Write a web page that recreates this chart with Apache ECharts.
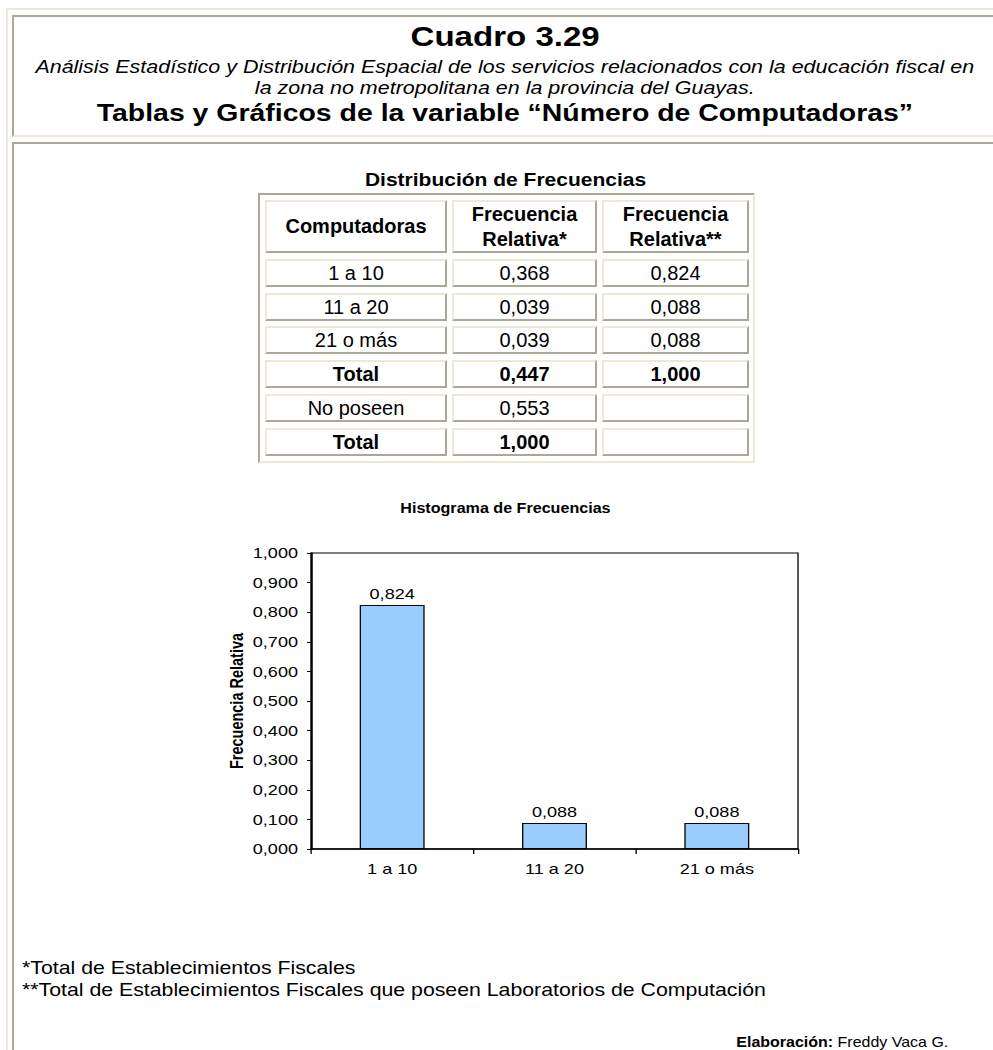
<!DOCTYPE html>
<html>
<head>
<meta charset="utf-8">
<title>Cuadro 3.29</title>
<script src="https://cdn.jsdelivr.net/npm/echarts/dist/echarts.min.js"></script>
<style>
  html, body { margin: 0; padding: 0; background: #fff; overflow: hidden; }
  body { width: 993px; height: 1050px; position: relative; font-family: Arial, 'Liberation Sans', sans-serif; color: #000; }
  .abs { position: absolute; }
  .txt { position: absolute; white-space: nowrap; }
  .txt > span { display: inline-block; }
  .ctr { left: 0; width: 1010px; text-align: center; }
  .ctr > span { transform-origin: 50% 50%; }
  .cell { position: absolute; box-sizing: border-box; border-style: solid; border-width: 2px;
          border-top-color: #ECE9D8; border-left-color: #ECE9D8; border-bottom-color: #ACA899; border-right-color: #ACA899;
          display: flex; align-items: center; justify-content: center; text-align: center; font-size: 20px; line-height: 25px; }
  .bold { font-weight: bold; }
</style>
</head>
<body>
<!-- outer frame (outset) -->
<div class="abs" style="left:6px; top:8px; width:1100px; height:1200px; border-top:2px solid #ECE9D8; border-left:2px solid #ECE9D8;"></div>
<!-- header cell (inset) -->
<div class="abs" style="left:12px; top:15px; width:1100px; height:118px; border-top:2px solid #ACA899; border-left:2px solid #ACA899; border-bottom:2px solid #ECE9D8;"></div>
<!-- body cell (inset) -->
<div class="abs" style="left:12px; top:142px; width:1100px; height:1100px; border-top:2px solid #ACA899; border-left:2px solid #ACA899;"></div>

<div class="txt ctr bold" style="top:20px; font-size:28px; line-height:34px;"><span style="transform:scaleX(1.18)">Cuadro 3.29</span></div>
<div class="txt ctr" style="top:56.5px; font-size:18.2px; line-height:21px; font-style:italic;"><span style="transform:scaleX(1.18)">Análisis Estadístico y Distribución Espacial de los servicios relacionados con la educación fiscal en<br>la zona no metropolitana en la provincia del Guayas.</span></div>
<div class="txt ctr bold" style="top:98.5px; font-size:24.1px; line-height:28px;"><span style="transform:scaleX(1.18)">Tablas y Gráficos de la variable “Número de Computadoras”</span></div>

<div class="txt bold" style="left:0; width:1012px; text-align:center; top:169px; font-size:18.75px; line-height:22px;"><span style="transform:scaleX(1.12)">Distribución de Frecuencias</span></div>
<div id="tbl"></div>

<div class="txt bold" style="left:0; width:1010px; text-align:center; top:498px; font-size:14px; line-height:20px;"><span style="transform:scaleX(1.15)">Histograma de Frecuencias</span></div>
<div id="chart" style="position:absolute; left:200px; top:480px; height:420px;"></div>

<div class="txt" style="left:22px; top:957px; font-size:18.5px; line-height:22px;"><span style="transform:scaleX(1.15); transform-origin:0 50%;">*Total de Establecimientos Fiscales<br>**Total de Establecimientos Fiscales que poseen Laboratorios de Computación</span></div>
<div class="txt" style="right:45px; top:1032px; font-size:13.9px; line-height:20px;"><span style="transform:scaleX(1.15); transform-origin:100% 50%;"><b>Elaboración:</b> Freddy Vaca G.</span></div>

<script>
// ---------------- data ----------------
const categories = ['1 a 10', '11 a 20', '21 o más'];
const relFreqAll = [0.368, 0.039, 0.039];     // Frecuencia Relativa*
const relFreqLab = [0.824, 0.088, 0.088];     // Frecuencia Relativa**
const tableHeaders = ['Computadoras', 'Frecuencia<br>Relativa*', 'Frecuencia<br>Relativa**'];
const subtotalRow = ['Total', 0.447, 1.000];
const noPoseenRow = ['No poseen', 0.553, null];
const grandTotalRow = ['Total', 1.000, null];
const yAxisMin = 0, yAxisMax = 1, yAxisStep = 0.1;

const fmt = v => (v === null || v === undefined) ? '' : Number(v).toFixed(3).replace('.', ',');

// ---------------- table ----------------
(function buildTable() {
  const tbl = document.getElementById('tbl');
  const colX = [265, 452, 602], colW = [182, 145, 147];
  const rowY = [200, 259, 293, 326, 360, 394, 428], rowH = [53, 28, 28, 28, 28, 28, 28];
  const outer = document.createElement('div');
  outer.className = 'abs';
  outer.style.cssText = 'left:258px; top:193px; width:497px; height:270px; box-sizing:border-box; border:2px solid; border-color:#ACA899 #ECE9D8 #ECE9D8 #ACA899;';
  tbl.appendChild(outer);
  const rows = [];
  rows.push({ cells: tableHeaders, bold: true });
  categories.forEach((c, i) => rows.push({ cells: [c, fmt(relFreqAll[i]), fmt(relFreqLab[i])], bold: false }));
  rows.push({ cells: [subtotalRow[0], fmt(subtotalRow[1]), fmt(subtotalRow[2])], bold: true });
  rows.push({ cells: [noPoseenRow[0], fmt(noPoseenRow[1]), fmt(noPoseenRow[2])], bold: false });
  rows.push({ cells: [grandTotalRow[0], fmt(grandTotalRow[1]), fmt(grandTotalRow[2])], bold: true });
  rows.forEach((r, ri) => {
    r.cells.forEach((t, ci) => {
      const d = document.createElement('div');
      d.className = 'cell' + (r.bold ? ' bold' : '');
      d.style.left = colX[ci] + 'px';
      d.style.top = rowY[ri] + 'px';
      d.style.width = colW[ci] + 'px';
      d.style.height = rowH[ri] + 'px';
      d.innerHTML = '<span>' + t + '</span>';
      tbl.appendChild(d);
    });
  });
})();

// ---------------- chart ----------------
const SX = 1.3;             // the chart picture is stretched horizontally
const chartW = 630 / SX;
const chartDom = document.getElementById('chart');
chartDom.style.width = chartW + 'px';
chartDom.style.transform = 'scaleX(' + SX + ')';
chartDom.style.transformOrigin = '0 0';
const FONT = "Arial, 'Liberation Sans', sans-serif";
const LBL = 13.9;
const chart = echarts.init(chartDom, null, { renderer: 'svg' });
chart.setOption({
  animation: false,
  textStyle: { fontFamily: FONT, color: '#000' },
  grid: {
    left: (311 - 200) / SX, top: 73, width: (798 - 311) / SX, height: 296,
    show: true, borderColor: '#000', borderWidth: 1, backgroundColor: 'transparent'
  },
  xAxis: {
    type: 'category',
    data: categories,
    axisLine: { lineStyle: { color: '#000', width: 1.5 } },
    axisTick: { show: true, length: 5, lineStyle: { color: '#000', width: 1 } },
    axisLabel: { fontSize: LBL, color: '#000', margin: 13, fontFamily: FONT }
  },
  yAxis: {
    type: 'value',
    min: yAxisMin, max: yAxisMax, interval: yAxisStep,
    name: 'Frecuencia Relativa',
    nameLocation: 'middle', nameRotate: 90, nameGap: 49.5, nameMoveOverlap: false,
    nameTextStyle: { fontWeight: 'bold', fontSize: 14.5, color: '#000', fontFamily: FONT },
    axisLine: { show: true, lineStyle: { color: '#000', width: 1.5 } },
    axisTick: { show: true, length: 3, lineStyle: { color: '#000', width: 1 } },
    axisLabel: { formatter: v => fmt(v), fontSize: LBL, color: '#000', margin: 10, fontFamily: FONT },
    splitLine: { show: false }
  },
  series: [{
    type: 'bar',
    data: relFreqLab,
    barWidth: '40%',
    itemStyle: { color: '#99CCFF', borderColor: '#000', borderWidth: 1 },
    label: { show: true, position: 'top', distance: 4, formatter: p => fmt(p.value), fontSize: LBL, color: '#000', fontFamily: FONT }
  }]
});
</script>
</body>
</html>
